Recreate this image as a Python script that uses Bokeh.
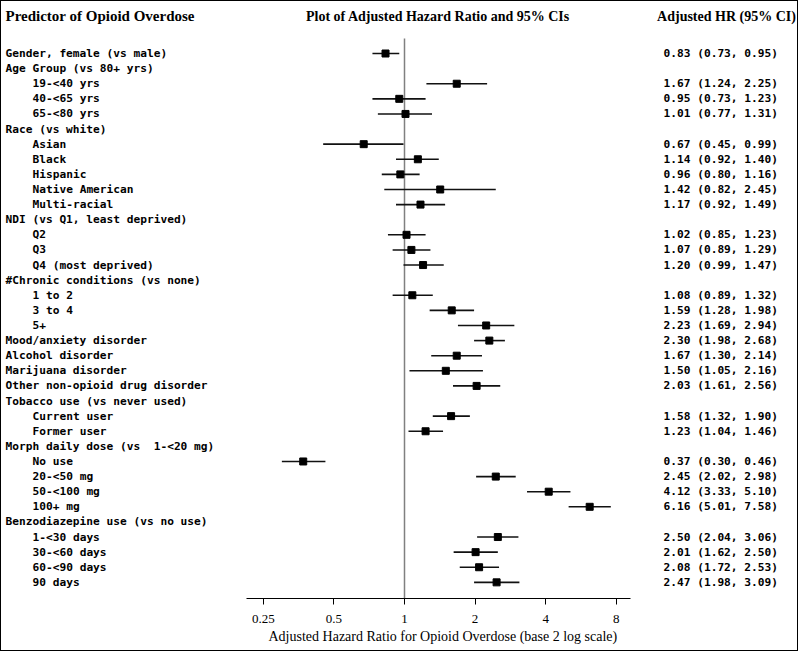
import math
from bokeh.plotting import figure
from bokeh.models import Range1d, LinearScale, ColumnDataSource, FixedTicker, CustomJSTickFormatter, Title
from bokeh.core.properties import value
from bokeh.embed import file_html
from bokeh.resources import INLINE

# ---------------- data ----------------
labels = [
    "Gender, female (vs male)",
    "Age Group (vs 80+ yrs)",
    "    19-<40 yrs",
    "    40-<65 yrs",
    "    65-<80 yrs",
    "Race (vs white)",
    "    Asian",
    "    Black",
    "    Hispanic",
    "    Native American",
    "    Multi-racial",
    "NDI (vs Q1, least deprived)",
    "    Q2",
    "    Q3",
    "    Q4 (most deprived)",
    "#Chronic conditions (vs none)",
    "    1 to 2",
    "    3 to 4",
    "    5+",
    "Mood/anxiety disorder",
    "Alcohol disorder",
    "Marijuana disorder",
    "Other non-opioid drug disorder",
    "Tobacco use (vs never used)",
    "    Current user",
    "    Former user",
    "Morph daily dose (vs  1-<20 mg)",
    "    No use",
    "    20-<50 mg",
    "    50-<100 mg",
    "    100+ mg",
    "Benzodiazepine use (vs no use)",
    "    1-<30 days",
    "    30-<60 days",
    "    60-<90 days",
    "    90 days",
]
hr = [0.83, None, 1.67, 0.95, 1.01, None, 0.67, 1.14, 0.96, 1.42, 1.17, None, 1.02, 1.07, 1.20,
      None, 1.08, 1.59, 2.23, 2.30, 1.67, 1.50, 2.03, None, 1.58, 1.23, None, 0.37, 2.45, 4.12,
      6.16, None, 2.50, 2.01, 2.08, 2.47]
lo = [0.73, None, 1.24, 0.73, 0.77, None, 0.45, 0.92, 0.80, 0.82, 0.92, None, 0.85, 0.89, 0.99,
      None, 0.89, 1.28, 1.69, 1.98, 1.30, 1.05, 1.61, None, 1.32, 1.04, None, 0.30, 2.02, 3.33,
      5.01, None, 2.04, 1.62, 1.72, 1.98]
hi = [0.95, None, 2.25, 1.23, 1.31, None, 0.99, 1.40, 1.16, 2.45, 1.49, None, 1.23, 1.29, 1.47,
      None, 1.32, 1.98, 2.94, 2.68, 2.14, 2.16, 2.56, None, 1.90, 1.46, None, 0.46, 2.98, 5.10,
      7.58, None, 3.06, 2.50, 2.53, 3.09]
tick_values = [0.25, 0.5, 1, 2, 4, 8]
reference_hr = 1
header_left = "Predictor of Opioid Overdose"
header_mid = "Plot of Adjusted Hazard Ratio and 95% CIs"
header_right = "Adjusted HR (95% CI)"
x_title = "Adjusted Hazard Ratio for Opioid Overdose (base 2 log scale)"

# ---------------- layout constants (screenshot px) ----------------
W, H = 798, 651
OFF = 1                 # border
X_ONE = 404.0           # screen x of HR = 1
PX_DBL = 70.6           # px per doubling
ROW0 = 53.0             # screen y of first row
ROW_H = 15.11           # row pitch
AXIS_Y = 598.0          # screen y of x axis line
AX_L, AX_R = 246.0, 630.0
MONO = value("DejaVu Sans Mono")
SERIF = value("Liberation Serif")

def s2log(sx):
    return 2 ** ((sx - X_ONE) / PX_DBL)

def s2row(sy):
    return (sy - ROW0) / ROW_H

frame_bottom_canvas = AXIS_Y - OFF
min_bottom = H - frame_bottom_canvas

p = figure(width=W, height=H, output_backend="svg", toolbar_location=None,
           x_axis_type="log",
           x_range=Range1d(s2log(OFF), s2log(OFF + W)),
           y_range=Range1d(s2row(AXIS_Y), s2row(OFF)),
           y_axis_location=None,
           min_border_left=0, min_border_right=0, min_border_top=0,
           min_border_bottom=int(min_bottom))
p.extra_x_ranges = {"px": Range1d(OFF, OFF + W)}
p.extra_x_scales = {"px": LinearScale()}
p.xgrid.visible = False
p.ygrid.visible = False
p.outline_line_color = None
p.background_fill_color = "white"
p.border_fill_color = "white"
p.styles = {"border": "1px solid black"}

rows = list(range(len(labels)))

# reference line
p.segment(x0=[reference_hr], x1=[reference_hr], y0=[-1], y1=[s2row(AXIS_Y)],
          line_color="#808080", line_width=1.5)

# CIs and estimates
idx = [i for i in rows if hr[i] is not None]
src = ColumnDataSource(dict(
    y=[rows[i] for i in idx],
    hr=[hr[i] for i in idx],
    lo=[lo[i] for i in idx],
    hi=[hi[i] for i in idx],
))
p.segment(x0="lo", x1="hi", y0="y", y1="y", source=src, line_color="#111111", line_width=1.6)
p.scatter(x="hr", y="y", source=src, marker="square", size=7, fill_color="black", line_color="black")

# left labels
lab_src = ColumnDataSource(dict(
    x=[5 + 6.75 * (len(l) - len(l.lstrip(" "))) for l in labels],
    y=rows,
    t=[l.strip().replace("  ", " \u00a0") for l in labels],
))
p.text(x="x", y="y", text="t", source=lab_src, x_range_name="px",
       text_font=MONO, text_font_style="bold", text_font_size="11.2px",
       text_baseline="middle", text_align="left", text_color="black")

# right estimates text
r_src = ColumnDataSource(dict(
    x=[663] * len(idx),
    y=[rows[i] for i in idx],
    t=["%.2f (%.2f, %.2f)" % (hr[i], lo[i], hi[i]) for i in idx],
))
p.text(x="x", y="y", text="t", source=r_src, x_range_name="px",
       text_font=MONO, text_font_style="bold", text_font_size="11.2px",
       text_baseline="middle", text_align="left", text_color="black")

# headers
hy = s2row(15.5)
p.text(x=[5], y=[hy], text=[header_left], x_range_name="px", text_font=SERIF,
       text_font_style="bold", text_font_size="15px", text_baseline="middle", text_align="left")
p.text(x=[437.5], y=[hy], text=[header_mid], x_range_name="px", text_font=SERIF,
       text_font_style="bold", text_font_size="14px", text_baseline="middle", text_align="center")
p.text(x=[726], y=[hy], text=[header_right], x_range_name="px", text_font=SERIF,
       text_font_style="bold", text_font_size="14px", text_baseline="middle", text_align="center")

# x axis
ax = p.xaxis[0]
ax.ticker = FixedTicker(ticks=tick_values)
ax.formatter = CustomJSTickFormatter(code="return tick.toString();")
ax.bounds = (s2log(AX_L), s2log(AX_R))
ax.minor_tick_line_color = None
ax.major_tick_in = 0
ax.major_tick_out = 6
ax.major_tick_line_color = "black"
ax.axis_line_color = "black"
ax.major_label_standoff = 10
ax.major_label_text_font = "Liberation Serif"
ax.major_label_text_font_size = "13px"
ax.major_label_text_color = "black"

t = Title(text=x_title, align="left", offset=268 - OFF, standoff=3,
          text_font="Liberation Serif", text_font_size="14px", text_font_style="normal",
          text_color="black")
p.add_layout(t, "below")

open("out.html", "w").write(file_html(p, INLINE))
